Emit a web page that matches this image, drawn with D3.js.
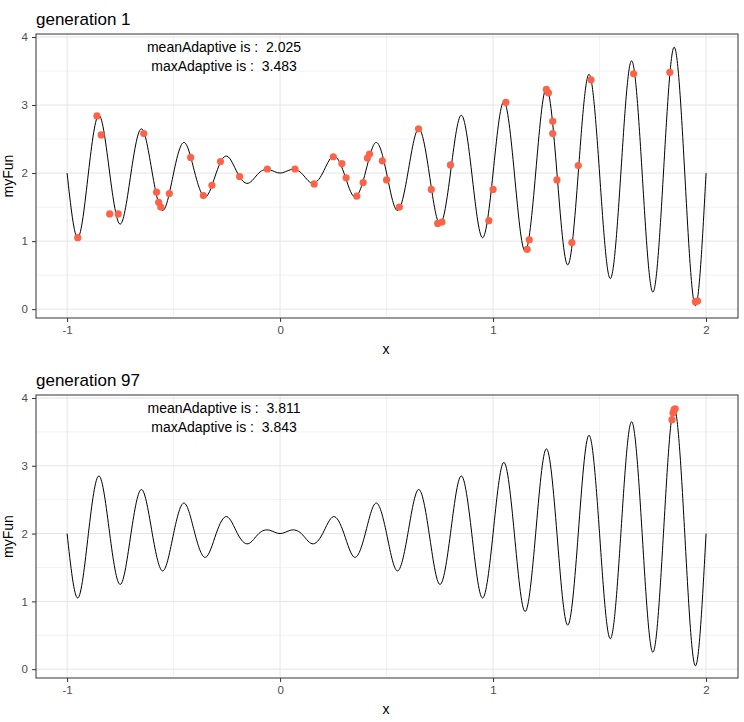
<!DOCTYPE html><html><head><meta charset="utf-8"><script src="https://cdn.jsdelivr.net/npm/d3@7"></script>
<style>body{margin:0;background:#fff}text{font-family:Arial,"Liberation Sans",sans-serif;white-space:pre}</style></head><body><svg id="c" width="744" height="722"></svg>
<script>
// curve: extrema and mid-level crossings
const curveX=[-1,-0.95,-0.9,-0.85,-0.8,-0.75,-0.7,-0.65,-0.6,-0.55,-0.5,-0.45,-0.4,-0.35,-0.3,-0.25,-0.2,-0.15,-0.1,-0.05,0,0.05,0.1,0.15,0.2,0.25,0.3,0.35,0.4,0.45,0.5,0.55,0.6,0.65,0.7,0.75,0.8,0.85,0.9,0.95,1,1.05,1.1,1.15,1.2,1.25,1.3,1.35,1.4,1.45,1.5,1.55,1.6,1.65,1.7,1.75,1.8,1.85,1.9,1.95,2];
const curveY=[2,1.05,2,2.85,2,1.25,2,2.65,2,1.45,2,2.45,2,1.65,2,2.25,2,1.85,2,2.05,2,2.05,2,1.85,2,2.25,2,1.65,2,2.45,2,1.45,2,2.65,2,1.25,2,2.85,2,1.05,2,3.05,2,0.85,2,3.25,2,0.65,2,3.45,2,0.45,2,3.65,2,0.25,2,3.85,2,0.05,2];
const g1X=[-0.95,-0.86,-0.84,-0.8,-0.76,-0.64,-0.58,-0.57,-0.56,-0.52,-0.42,-0.36,-0.32,-0.28,-0.19,-0.06,0.07,0.16,0.25,0.29,0.31,0.36,0.39,0.41,0.42,0.48,0.5,0.56,0.65,0.71,0.74,0.76,0.8,0.98,1.0,1.06,1.16,1.17,1.25,1.26,1.28,1.28,1.3,1.37,1.4,1.46,1.66,1.83,1.95,1.96];
const g1Y=[1.05,2.84,2.56,1.4,1.4,2.58,1.72,1.57,1.5,1.7,2.23,1.67,1.82,2.17,1.95,2.06,2.06,1.84,2.24,2.14,1.93,1.66,1.86,2.22,2.28,2.18,1.9,1.5,2.65,1.76,1.26,1.28,2.12,1.3,1.76,3.04,0.88,1.02,3.23,3.18,2.76,2.58,1.9,0.98,2.11,3.37,3.46,3.48,0.11,0.12];
const g97X=[1.84,1.845,1.85,1.855];
const g97Y=[3.68,3.78,3.83,3.84];
const xTicks=[-1,0,1,2], yTicks=[0,1,2,3,4];
const panels=[{title:"generation 1",mean:"2.025",max:"3.483",px:g1X,py:g1Y,top:34,bottom:318},
{title:"generation 97",mean:"3.811",max:"3.843",px:g97X,py:g97Y,top:395,bottom:678}];
const svg=d3.select("#c");
const L=36,R=738;
const x=d3.scaleLinear().domain([-1.146,2.15]).range([L,R]);
const curvePts=curveX.map((v,i)=>[v,curveY[i]]);
panels.forEach(p=>{
  const y=d3.scaleLinear().domain([-0.13,4.044]).range([p.bottom,p.top]);
  const g=svg.append("g");
  [-0.5,0.5,1.5].forEach(v=>g.append("line").attr("x1",x(v)).attr("x2",x(v)).attr("y1",p.top).attr("y2",p.bottom).attr("stroke","#f2f2f2"));
  [0.5,1.5,2.5,3.5].forEach(v=>g.append("line").attr("y1",y(v)).attr("y2",y(v)).attr("x1",L).attr("x2",R).attr("stroke","#f2f2f2"));
  xTicks.forEach(v=>g.append("line").attr("x1",x(v)).attr("x2",x(v)).attr("y1",p.top).attr("y2",p.bottom).attr("stroke","#e5e5e5"));
  yTicks.forEach(v=>g.append("line").attr("y1",y(v)).attr("y2",y(v)).attr("x1",L).attr("x2",R).attr("stroke","#e5e5e5"));
  g.append("path").datum(curvePts).attr("d",d3.line().x(d=>x(d[0])).y(d=>y(d[1])).curve(d3.curveNatural)).attr("fill","none").attr("stroke","#000").attr("stroke-width",1);
  g.selectAll("circle").data(p.px.map((v,i)=>[v,p.py[i]])).join("circle").attr("cx",d=>x(d[0])).attr("cy",d=>y(d[1])).attr("r",3.6).attr("fill","#ff6347");
  g.append("rect").attr("x",L).attr("y",p.top).attr("width",R-L).attr("height",p.bottom-p.top).attr("fill","none").attr("stroke","#333").attr("stroke-width",1);
  const xa=g.append("g").attr("transform",`translate(0,${p.bottom})`).call(d3.axisBottom(x).tickValues(xTicks).tickFormat(d=>String(d)).tickSize(4).tickPadding(4));
  xa.select(".domain").remove();xa.selectAll("line").attr("stroke","#333");xa.selectAll("text").attr("fill","#4d4d4d").attr("font-size",11.5);
  const ya=g.append("g").attr("transform",`translate(${L},0)`).call(d3.axisLeft(y).tickValues(yTicks).tickFormat(d=>String(d)).tickSize(4).tickPadding(4));
  ya.select(".domain").remove();ya.selectAll("line").attr("stroke","#333");ya.selectAll("text").attr("fill","#4d4d4d").attr("font-size",11.5);
  g.append("text").attr("x",L).attr("y",p.top-9).attr("font-size",17).text(p.title);
  g.append("text").attr("x",386).attr("y",p.bottom+36).attr("text-anchor","middle").attr("font-size",14).text("x");
  g.append("text").attr("transform",`translate(13,${(p.top+p.bottom)/2}) rotate(-90)`).attr("text-anchor","middle").attr("font-size",14).text("myFun");
  g.append("text").attr("x",224).attr("y",p.top+18).attr("text-anchor","middle").attr("font-size",14).text("meanAdaptive is :  "+p.mean);
  g.append("text").attr("x",224).attr("y",p.top+37).attr("text-anchor","middle").attr("font-size",14).text("maxAdaptive is :  "+p.max);
});
</script></body></html>
